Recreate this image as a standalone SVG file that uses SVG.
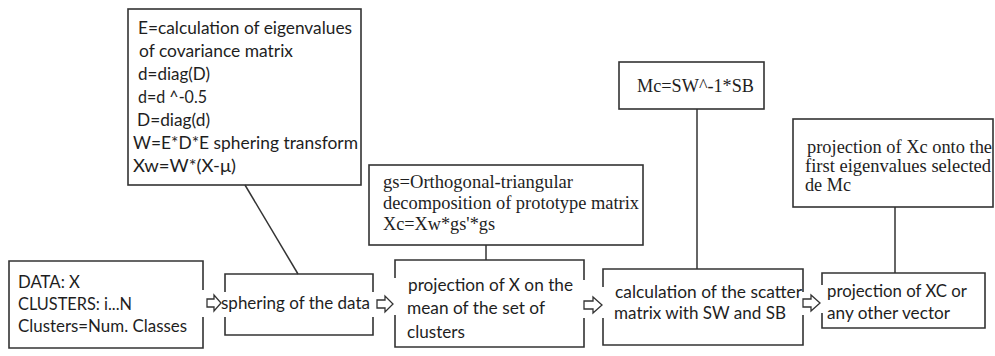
<svg xmlns="http://www.w3.org/2000/svg" width="995" height="356" viewBox="0 0 995 356">
<style>
.b{fill:none;stroke:#333;stroke-width:1.6}
.c{fill:none;stroke:#333;stroke-width:1.5}
.a{fill:#fff;stroke:#333;stroke-width:1.3;stroke-linejoin:miter}
.s{font-family:Lato,"Open Sans","Liberation Sans",sans-serif;font-size:18px;fill:#1e1e1e}
.t{font-family:"Liberation Serif","Times New Roman",serif;font-size:18px;fill:#1e1e1e}
</style>
<rect width="995" height="356" fill="#fff"/>
<g id="connectors">
<line class="c" x1="245" y1="185" x2="298" y2="274"/>
<line class="c" x1="486" y1="245" x2="486" y2="260"/>
<line class="c" x1="697" y1="109" x2="697" y2="269"/>
<line class="c" x1="895" y1="207" x2="895" y2="273"/>
<polygon class="a" points="207,299 214,299 214,295 221,303 214,311 214,307 207,307"/>
<polygon class="a" points="377,300 385,300 385,296 393,304 385,312 385,308 377,308"/>
<polygon class="a" points="584,301 593,301 593,297 602,305 593,313 593,309 584,309"/>
<polygon class="a" points="803,299 811,299 811,295 820,303 811,311 811,307 803,307"/>
</g>
<g id="node-eig">
<rect class="b" x="128" y="9" width="233" height="176"/>
<text class="s" x="138" y="34" textLength="214" lengthAdjust="spacingAndGlyphs">E=calculation of eigenvalues</text>
<text class="s" x="139" y="57" textLength="154" lengthAdjust="spacingAndGlyphs">of covariance matrix</text>
<text class="s" x="138" y="80" textLength="72" lengthAdjust="spacingAndGlyphs">d=diag(D)</text>
<text class="s" x="138" y="103" textLength="69" lengthAdjust="spacingAndGlyphs">d=d ^-0.5</text>
<text class="s" x="137" y="126" textLength="73" lengthAdjust="spacingAndGlyphs">D=diag(d)</text>
<text class="s" x="133" y="149" textLength="225" lengthAdjust="spacingAndGlyphs">W=E*D*E sphering transform</text>
<text class="s" x="133" y="172" textLength="103" lengthAdjust="spacingAndGlyphs">Xw=W*(X-μ)</text>
</g>
<g id="node-data">
<path class="b" d="M203,290 V261 H9 V348 H203 V317"/>
<text class="s" x="18" y="288" textLength="62" lengthAdjust="spacingAndGlyphs">DATA: X</text>
<text class="s" x="18" y="310" textLength="114" lengthAdjust="spacingAndGlyphs">CLUSTERS: i...N</text>
<text class="s" x="18" y="332" textLength="169" lengthAdjust="spacingAndGlyphs">Clusters=Num. Classes</text>
</g>
<g id="node-sphering">
<path class="b" d="M225,292 V274 H373 V292 M373,317 V335 H225 V317"/>
<text class="s" x="221" y="309" textLength="149" lengthAdjust="spacingAndGlyphs">sphering of the data</text>
</g>
<g id="node-gs">
<rect class="b" x="369" y="165" width="274" height="80"/>
<text class="t" x="383" y="188" textLength="190" lengthAdjust="spacingAndGlyphs">gs=Orthogonal-triangular</text>
<text class="t" x="383" y="209" textLength="256" lengthAdjust="spacingAndGlyphs">decomposition of prototype matrix</text>
<text class="t" x="383" y="230" textLength="112" lengthAdjust="spacingAndGlyphs">Xc=Xw*gs'*gs</text>
</g>
<g id="node-projection">
<path class="b" d="M395,278 V260 H584 V280 M584,318 V347 H395 V315"/>
<text class="s" x="408" y="291" textLength="165" lengthAdjust="spacingAndGlyphs">projection of X on the</text>
<text class="s" x="407" y="314" textLength="138" lengthAdjust="spacingAndGlyphs">mean of the set of</text>
<text class="s" x="407" y="338" textLength="58" lengthAdjust="spacingAndGlyphs">clusters</text>
</g>
<g id="node-mc">
<rect class="b" x="619" y="62" width="145" height="47"/>
<text class="t" x="637" y="92" textLength="117" lengthAdjust="spacingAndGlyphs">Mc=SW^-1*SB</text>
</g>
<g id="node-scatter">
<path class="b" d="M603,287 V269 H803 V292 M803,315 V345 H603 V318"/>
<text class="s" x="615" y="298" textLength="187" lengthAdjust="spacingAndGlyphs">calculation of the scatter</text>
<text class="s" x="614" y="319" textLength="172" lengthAdjust="spacingAndGlyphs">matrix with SW and SB</text>
</g>
<g id="node-xc">
<rect class="b" x="793" y="119" width="200" height="88"/>
<text class="t" x="807" y="153" textLength="185" lengthAdjust="spacingAndGlyphs">projection of Xc onto the</text>
<text class="t" x="805" y="172" textLength="186" lengthAdjust="spacingAndGlyphs">first eigenvalues selected</text>
<text class="t" x="805" y="191" textLength="46" lengthAdjust="spacingAndGlyphs">de Mc</text>
</g>
<g id="node-final">
<path class="b" d="M822,285 V273 H985 V328 H822 V313"/>
<text class="s" x="827" y="297" textLength="140" lengthAdjust="spacingAndGlyphs">projection of XC or</text>
<text class="s" x="827" y="319" textLength="123" lengthAdjust="spacingAndGlyphs">any other vector</text>
</g>
</svg>
